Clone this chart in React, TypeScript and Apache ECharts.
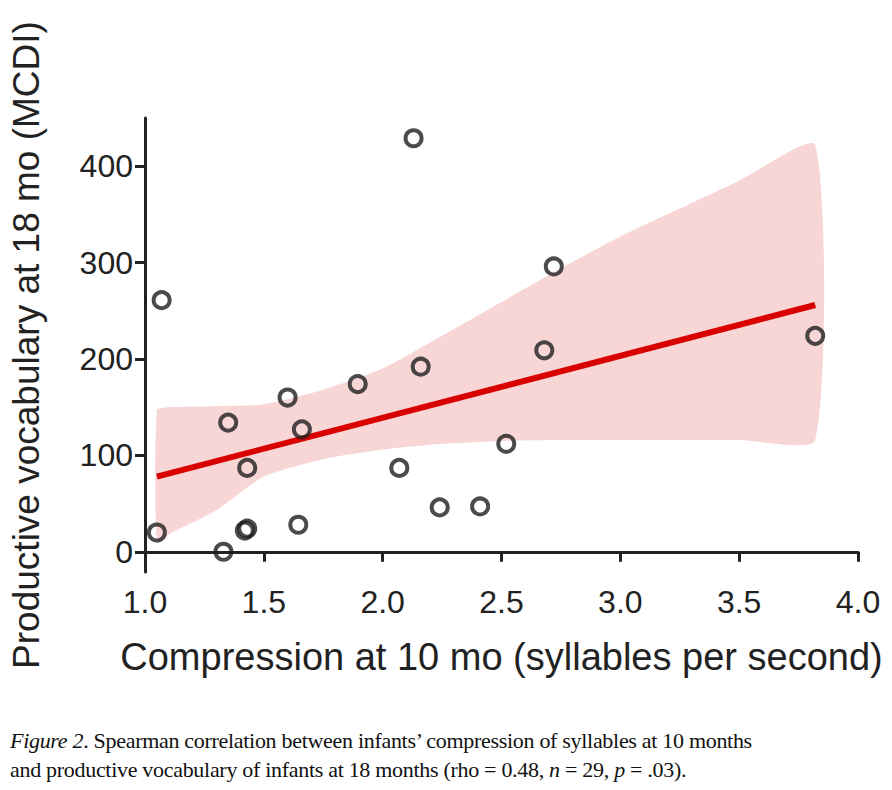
import { useEffect, useRef } from 'react'
import * as echarts from 'echarts'

const compression = [1.05, 1.07, 1.33, 1.35, 1.43, 1.42, 1.43, 1.6, 1.66, 1.645, 1.895, 2.07, 2.13, 2.16, 2.24, 2.41, 2.52, 2.68, 2.72, 3.82]
const vocabulary = [20, 261, 0, 134, 87, 22, 24, 160, 127, 28, 174, 87, 429, 192, 46, 47, 112, 209, 296, 224]

const fitX = [1.05, 3.82]
const fitY = [78, 256]

const bandX = [1.05, 1.1, 1.3, 1.5, 1.75, 2.0, 2.25, 2.5, 2.75, 3.0, 3.25, 3.5, 3.82]
const bandUpper = [147, 150, 151, 153, 168, 190, 224, 259, 294, 327, 356, 385, 422]
const bandLower = [9, 18, 43, 78, 96, 106, 112, 115, 116, 116, 116, 116, 116]

const yTicks = [0, 100, 200, 300, 400]

export default function App() {
  const chartRef = useRef<HTMLDivElement>(null)

  useEffect(() => {
    if (!chartRef.current) return
    const chart = echarts.init(chartRef.current, undefined, { renderer: 'svg' })
    const bandData = bandX.map((x, i) => [x, bandLower[i], bandUpper[i]])
    chart.setOption({
      animation: false,
      grid: { left: 137, right: 34, top: 118, bottom: 128 },
      xAxis: {
        type: 'value',
        min: 1,
        max: 4,
        interval: 0.5,
        name: 'Compression at 10 mo (syllables per second)',
        nameLocation: 'middle',
        nameGap: 66,
        nameTextStyle: { fontSize: 38, color: '#222', fontFamily: 'Liberation Sans, Arial' },
        axisLine: { lineStyle: { color: '#222', width: 3 } },
        axisTick: { length: 10, lineStyle: { color: '#222', width: 3 } },
        axisLabel: { fontSize: 32, color: '#222', margin: 14, fontFamily: 'Liberation Sans, Arial', formatter: (v: number) => v.toFixed(1) },
        splitLine: { show: false },
      },
      yAxis: {
        type: 'value',
        min: -21,
        max: 450,
        name: 'Productive vocabulary at 18 mo (MCDI)',
        nameLocation: 'middle',
        nameGap: 100,
        nameTextStyle: { fontSize: 37, color: '#222', fontFamily: 'Liberation Sans, Arial' },
        axisLine: { lineStyle: { color: '#222', width: 3 } },
        axisTick: { length: 10, customValues: yTicks, lineStyle: { color: '#222', width: 3 } },
        axisLabel: { fontSize: 32, color: '#222', margin: 12, fontFamily: 'Liberation Sans, Arial', customValues: yTicks },
        splitLine: { show: false },
      },
      series: [
        {
          type: 'custom',
          data: bandData,
          renderItem: (params: any, api: any) => {
            if (params.dataIndex !== 0) return null
            const top = bandData.map((d) => api.coord([d[0], d[2]]))
            const bottom = bandData.map((d) => api.coord([d[0], d[1]])).reverse()
            return {
              type: 'polygon',
              shape: { points: top.concat(bottom), smooth: 0.2 },
              style: { fill: 'rgba(232,120,120,0.3)' },
            }
          },
          z: 1,
        },
        {
          type: 'line',
          data: fitX.map((x, i) => [x, fitY[i]]),
          symbol: 'none',
          lineStyle: { color: '#d90000', width: 6 },
          z: 2,
        },
        {
          type: 'scatter',
          data: compression.map((x, i) => [x, vocabulary[i]]),
          symbolSize: 16,
          itemStyle: { color: 'rgba(0,0,0,0)', borderColor: '#1e1e1e', borderWidth: 4 },
          z: 3,
        },
      ],
    })
    return () => chart.dispose()
  }, [])

  return (
    <div style={{ position: 'absolute', left: 0, top: 0, width: 892, height: 790, background: '#fff' }}>
      <div ref={chartRef} style={{ width: 892, height: 700 }} />
      <div
        style={{
          position: 'absolute',
          left: 10,
          top: 726,
          fontFamily: 'Liberation Serif, Times New Roman, serif',
          fontSize: 22,
          lineHeight: '29px',
          letterSpacing: '-0.3px',
          color: '#111',
          whiteSpace: 'nowrap',
        }}
      >
        <i>Figure 2</i>. Spearman correlation between infants’ compression of syllables at 10 months
        <br />
        and productive vocabulary of infants at 18 months (rho = 0.48, <i>n</i> = 29, <i>p</i> = .03).
      </div>
    </div>
  )
}
